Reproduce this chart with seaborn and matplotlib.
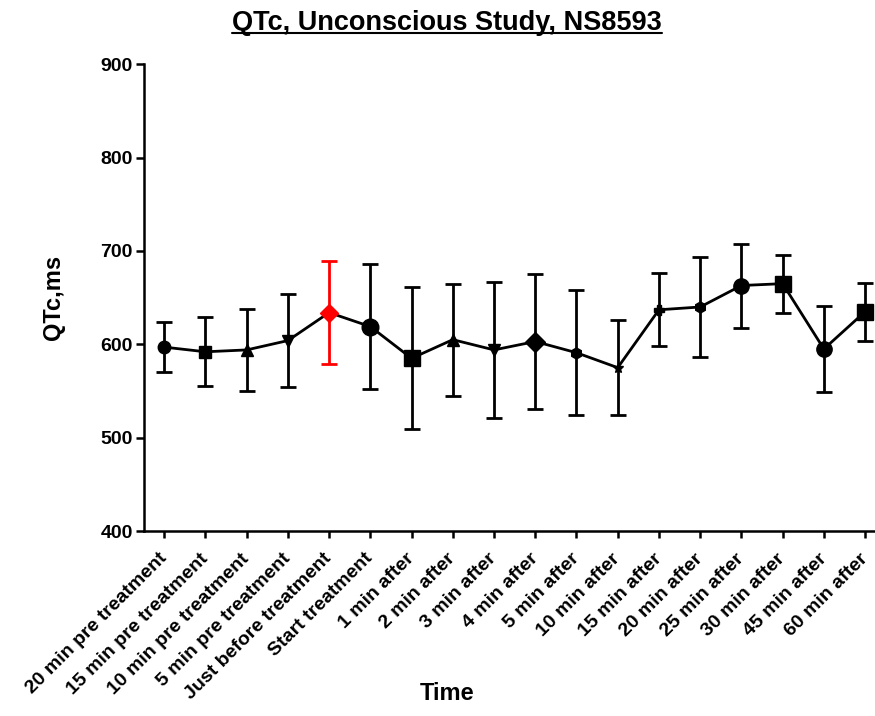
import numpy as np
import pandas as pd
import matplotlib
matplotlib.use("Agg")
import matplotlib.pyplot as plt
import seaborn as sns
from matplotlib.lines import Line2D

categories = ["20 min pre treatment", "15 min pre treatment", "10 min pre treatment",
              "5 min pre treatment", "Just before treatment", "Start treatment",
              "1 min after", "2 min after", "3 min after", "4 min after", "5 min after",
              "10 min after", "15 min after", "20 min after", "25 min after",
              "30 min after", "45 min after", "60 min after"]
qtc_mean = [597, 592, 594, 604, 634, 619, 585, 605, 594, 603, 591, 575, 637, 640, 663, 665, 595, 635]
qtc_err = [27, 37, 44, 50, 55, 67, 76, 60, 73, 72, 67, 51, 39, 54, 45, 31, 46, 31]
yticks = [400, 500, 600, 700, 800, 900]

markers = ['o', 's', '^', 'v', 'D', 'o', 's', '^', 'v', 'D', 'h', '*', 'P', 'h', 'o', 's', 'o', 's']
msizes = [9, 9, 9, 9, 9, 12, 12, 9, 9, 10, 8, 7, 7, 8, 11, 11, 11, 11]
colors = ['black'] * 18
colors[4] = 'red'

sns.set_style("ticks")
plt.rcParams['font.family'] = ['Liberation Sans', 'DejaVu Sans']
plt.rcParams['font.weight'] = 'bold'
for k in ['text.color', 'axes.labelcolor', 'xtick.color', 'ytick.color', 'axes.edgecolor']:
    plt.rcParams[k] = 'black'

fig = plt.figure(figsize=(8.75, 7.16), dpi=100)
ax = fig.add_axes([144/875, (716-531)/716, (875-144)/875, (531-64.3)/716])

df = pd.DataFrame({"pos": np.arange(len(categories)), "QTc": qtc_mean, "err": qtc_err})
sns.lineplot(data=df, x="pos", y="QTc", color="black", linewidth=2.0, ax=ax, zorder=3)

for i, row in df.iterrows():
    ax.errorbar(row["pos"], row["QTc"], yerr=row["err"], fmt='none', ecolor=colors[i],
                elinewidth=2.0, capsize=6, capthick=2.0, zorder=2)
    ax.plot(row["pos"], row["QTc"], marker=markers[i], markersize=msizes[i],
            color=colors[i], linestyle='none', zorder=4)

ax.set_xlim(-0.49, 17.24)
ax.set_ylim(400, 900)
ax.set_yticks(yticks)
ax.set_yticklabels([str(v) for v in yticks], fontsize=14, fontweight='bold')
ax.set_xticks(np.arange(len(categories)))
ax.set_xticklabels(categories, rotation=45, ha='right', va='center', rotation_mode='anchor',
                   fontsize=14, fontweight='bold')
ax.tick_params(axis='y', length=6, width=1.8, pad=2)
ax.tick_params(axis='x', length=5, width=1.8, pad=13)
sns.despine(ax=ax)
for s in ['left', 'bottom']:
    ax.spines[s].set_linewidth(1.8)
ax.set_xlabel("")
ax.set_ylabel("")

fig.text(53/875, 1 - 297/716, "QTc,ms", rotation=90, ha='center', va='center',
         fontsize=17, fontweight='bold')
fig.text(447/875, 1 - 693/716, "Time", ha='center', va='center', fontsize=17, fontweight='bold')

t = fig.text(447/875, 1 - 30/716, "QTc, Unconscious Study, NS8593", ha='center', va='baseline',
             fontsize=19.5, fontweight='bold')
fig.canvas.draw()
bb = t.get_window_extent()
uy = fig.bbox.height - 33
fig.add_artist(Line2D([bb.x0 / fig.bbox.width, bb.x1 / fig.bbox.width],
                      [uy / fig.bbox.height, uy / fig.bbox.height],
                      transform=fig.transFigure, color='black', linewidth=1.5))

fig.savefig("out.png", dpi=100)
